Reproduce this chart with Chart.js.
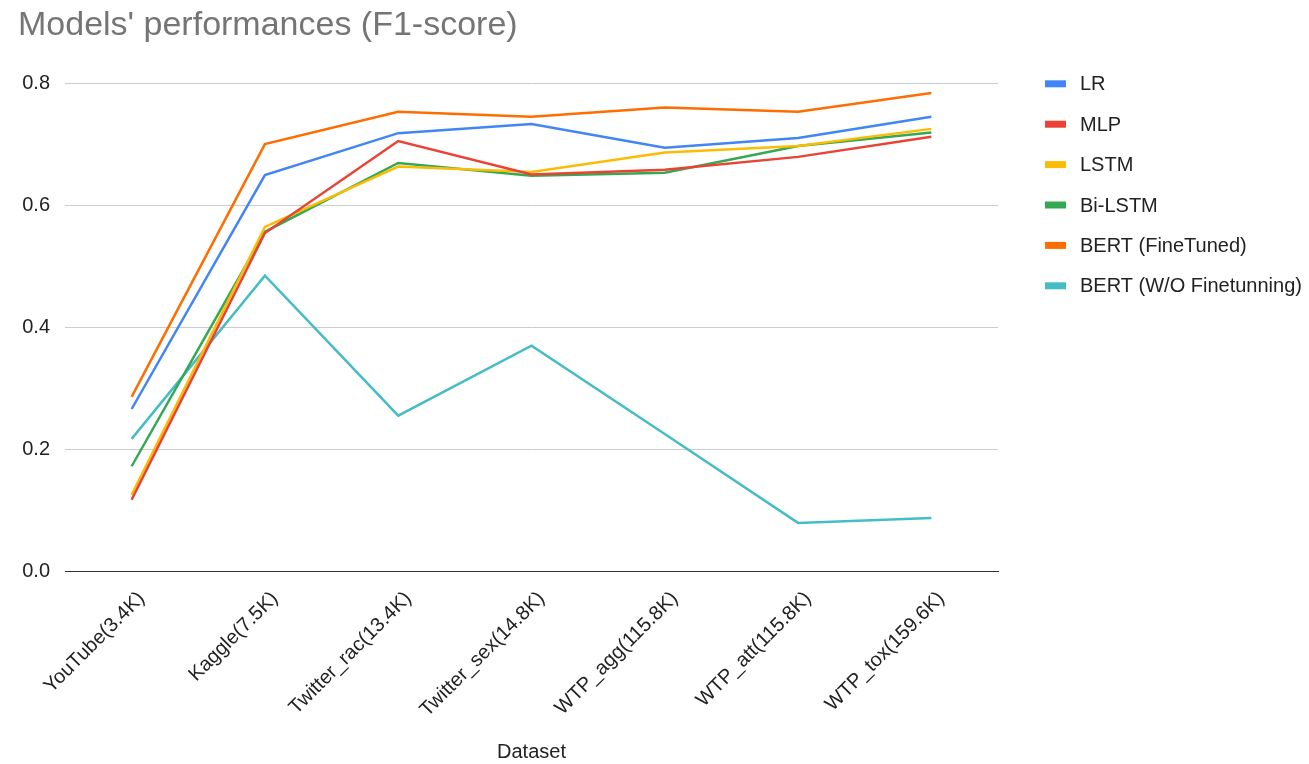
<!DOCTYPE html>
<html>
<head>
<meta charset="utf-8">
<script src="https://cdn.jsdelivr.net/npm/chart.js@4.4.1/dist/chart.umd.min.js"></script>
<style>
  html, body { margin: 0; padding: 0; background: #fff; }
  #wrap { width: 1309px; height: 764px; }
</style>
</head>
<body>
<div id="wrap"><canvas id="f1Chart"></canvas></div>
<script>
// Data
const datasetsNames = ['YouTube(3.4K)', 'Kaggle(7.5K)', 'Twitter_rac(13.4K)', 'Twitter_sex(14.8K)', 'WTP_agg(115.8K)', 'WTP_att(115.8K)', 'WTP_tox(159.6K)'];
const lrScores = [0.266, 0.650, 0.719, 0.734, 0.695, 0.711, 0.746];
const mlpScores = [0.117, 0.555, 0.706, 0.651, 0.659, 0.680, 0.713];
const lstmScores = [0.125, 0.565, 0.664, 0.655, 0.687, 0.698, 0.726];
const biLstmScores = [0.172, 0.557, 0.670, 0.649, 0.654, 0.698, 0.720];
const bertFtScores = [0.286, 0.701, 0.754, 0.746, 0.761, 0.754, 0.785];
const bertNoFtScores = [0.217, 0.485, 0.255, 0.370, 0.225, 0.079, 0.087];
const yTicks = [0, 0.2, 0.4, 0.6, 0.8];

const fontFamily = "'Liberation Sans', Arial, sans-serif";
const textColor = '#222222';

function series(label, data, color) {
    return {
        label: label,
        data: data,
        borderColor: color,
        backgroundColor: color,
        borderWidth: 2.5,
        pointRadius: 0,
        tension: 0,
        fill: false
    };
}

// Legend drawn by hand so box/text spacing matches the original
const sideLegend = {
    id: 'sideLegend',
    afterDraw(chart) {
        const ctx = chart.ctx;
        const x0 = chart.chartArea.right + 47;
        const y0 = chart.chartArea.top;
        ctx.save();
        ctx.font = '20px ' + fontFamily;
        ctx.textBaseline = 'middle';
        ctx.textAlign = 'left';
        chart.data.datasets.forEach((ds, i) => {
            const y = y0 + i * 40.4;
            ctx.fillStyle = ds.borderColor;
            ctx.fillRect(x0, y - 3.5, 21, 7);
            ctx.fillStyle = textColor;
            ctx.fillText(ds.label, x0 + 35, y + 1);
        });
        ctx.restore();
    }
};

document.addEventListener('DOMContentLoaded', () => {
    Chart.defaults.font.family = fontFamily;
    Chart.defaults.color = textColor;

    const ctx = document.getElementById('f1Chart').getContext('2d');
    new Chart(ctx, {
        type: 'line',
        data: {
            labels: datasetsNames,
            datasets: [
                series('LR', lrScores, '#4285f4'),
                series('MLP', mlpScores, '#ea4335'),
                series('LSTM', lstmScores, '#fbbc04'),
                series('Bi-LSTM', biLstmScores, '#34a853'),
                series('BERT (FineTuned)', bertFtScores, '#ff6d01'),
                series('BERT (W/O Finetunning)', bertNoFtScores, '#46bdc6')
            ]
        },
        plugins: [sideLegend],
        options: {
            responsive: true,
            maintainAspectRatio: false,
            animation: false,
            layout: { padding: { left: 18, right: 311, top: 0, bottom: 0 } },
            plugins: {
                title: {
                    display: true,
                    text: "Models' performances (F1-score)",
                    align: 'start',
                    color: '#757575',
                    font: { size: 34, weight: 'normal' },
                    padding: { top: 5, bottom: 38 }
                },
                legend: { display: false },
                tooltip: { enabled: false }
            },
            scales: {
                y: {
                    min: 0,
                    max: 0.8,
                    afterFit: axis => { axis.width = 47; },
                    afterBuildTicks: axis => { axis.ticks = yTicks.map(v => ({ value: v })); },
                    ticks: {
                        font: { size: 20 },
                        color: textColor,
                        padding: 15,
                        callback: v => v.toFixed(1)
                    },
                    border: { display: false },
                    grid: {
                        color: c => c.tick && c.tick.value === 0 ? '#333' : '#cccccc',
                        lineWidth: 1,
                        drawTicks: false
                    }
                },
                x: {
                    offset: true,
                    afterFit: axis => { axis.height = 193; },
                    grid: { display: false },
                    border: { display: true, color: '#333' },
                    ticks: {
                        font: { size: 20 },
                        color: textColor,
                        maxRotation: 45,
                        minRotation: 45,
                        labelOffset: 10,
                        padding: 8
                    },
                    title: {
                        display: true,
                        text: 'Dataset',
                        font: { size: 20 },
                        color: textColor,
                        padding: { top: 0, bottom: 0 }
                    }
                }
            }
        }
    });
});
</script>
</body>
</html>
